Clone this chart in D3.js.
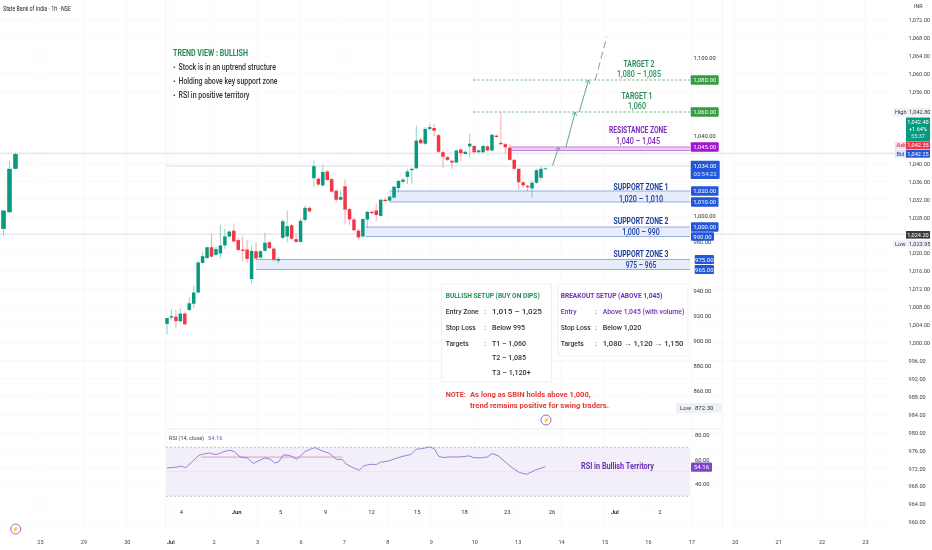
<!DOCTYPE html>
<html>
<head>
<meta charset="utf-8">
<script src="https://cdn.jsdelivr.net/npm/d3@7"></script>
<style>
	html, body { margin:0; padding:0; background:#ffffff; }
	svg { display:block; font-family:Roboto, sans-serif; filter:blur(0.3px); }
	.domain { display:none; }
</style>
</head>
<body>
<svg id="chart" width="932" height="550"></svg>
<script>

var candleOpen = [1004.2,1005.6,1005.8,1004.8,1006.5,1007.3,1008.7,1011.2,1017.8,1018.9,1021.3,1019.6,1019.9,1021.7,1023.7,1025.0,1022.9,1020.8,1020.8,1014.2,1020.4,1019.0,1020.5,1022.4,1021.0,1018.3,1023.4,1023.7,1026.2,1023.1,1022.5,1027.4,1030.1,1036.7,1036.6,1035.1,1038.2,1036.5,1033.9,1031.9,1034.9,1029.8,1027.5,1025.0,1023.7,1027.5,1029.2,1029.5,1028.3,1031.9,1031.7,1032.4,1034.5,1035.9,1037.0,1038.5,1038.9,1045.3,1044.4,1047.7,1047.9,1046.3,1042.5,1041.4,1040.6,1040.2,1043.1,1042.1,1043.8,1043.9,1042.5,1042.5,1043.8,1042.9,1046.2,1044.6,1044.3,1043.5,1040.8,1038.8,1035.8,1035.0,1034.4,1035.7,1036.8,1038.8];
var candleHigh = [1005.5,1007.5,1007.3,1007.7,1006.8,1010.1,1012.7,1018.3,1020.2,1021.4,1024.3,1021.4,1026.3,1025.4,1025.0,1026.6,1023.5,1023.7,1022.9,1021.7,1022.4,1020.7,1024.5,1022.6,1021.3,1019.2,1027.6,1029.5,1026.5,1024.3,1027.7,1030.6,1030.4,1040.8,1036.9,1039.7,1038.5,1036.8,1034.3,1033.9,1036.4,1030.2,1028.0,1025.4,1027.7,1029.5,1029.5,1031.0,1032.1,1032.4,1032.8,1035.0,1036.3,1036.6,1038.8,1039.1,1048.4,1045.8,1048.1,1048.9,1048.8,1046.6,1042.9,1041.7,1040.8,1043.0,1043.4,1042.9,1046.7,1044.0,1043.1,1044.2,1044.1,1046.6,1046.4,1051.3,1044.6,1044.3,1041.0,1038.9,1035.9,1035.2,1036.2,1038.8,1039.4,1039.1];
var candleLow = [1001.9,1005.1,1003.3,1004.5,1004.0,1007.1,1007.7,1011.0,1017.6,1018.7,1018.9,1019.4,1018.9,1020.9,1023.5,1022.4,1020.4,1018.1,1017.9,1013.2,1018.5,1018.7,1020.4,1020.9,1018.1,1017.7,1023.1,1022.4,1022.9,1022.4,1022.3,1026.8,1029.0,1034.8,1034.8,1034.8,1036.2,1033.5,1031.3,1031.7,1026.5,1026.3,1024.9,1023.1,1023.5,1025.7,1028.7,1027.2,1028.2,1031.4,1031.5,1032.1,1033.5,1035.5,1035.4,1035.4,1038.8,1044.3,1044.1,1047.3,1046.0,1042.3,1039.0,1040.5,1038.8,1040.1,1040.6,1042.0,1041.2,1042.3,1042.3,1042.3,1042.7,1042.7,1045.7,1044.1,1042.3,1040.6,1038.6,1034.1,1034.5,1033.8,1032.3,1035.4,1036.2,1038.6];
var candleClose = [1005.5,1005.9,1004.8,1006.5,1004.1,1008.8,1011.2,1017.9,1019.3,1021.3,1019.2,1020.9,1021.7,1023.7,1024.8,1022.6,1020.7,1020.5,1018.7,1020.5,1018.8,1020.4,1022.3,1021.1,1018.5,1018.7,1027.1,1026.0,1023.2,1022.5,1027.2,1030.1,1029.3,1039.4,1035.3,1038.1,1036.3,1033.7,1031.9,1032.5,1029.7,1027.5,1025.1,1023.5,1027.6,1029.2,1028.9,1028.5,1031.9,1031.6,1032.6,1034.8,1036.1,1036.4,1038.2,1038.8,1045.1,1044.5,1047.7,1048.1,1047.3,1042.6,1041.5,1040.8,1040.2,1042.9,1042.3,1042.6,1044.4,1042.5,1042.9,1043.9,1042.9,1046.4,1045.9,1044.3,1043.6,1040.8,1038.8,1035.8,1035.1,1034.7,1035.7,1038.5,1038.8,1038.9];

// three candles of the older chart, left edge
var olderOpen = [1025.4,1029.1,1038.8];
var olderHigh = [1029.5,1040.5,1042.4];
var olderLow = [1023.9,1029.0,1038.6];
var olderClose = [1029.5,1038.8,1042.1];

var rsiIndex = [0,2,3.2,4.2,5.6,7.2,8.4,9.6,10.6,11.6,12.8,14.2,15.2,16.4,18,19.4,20.4,22,23.2,24.2,25,26.2,27.6,29.2,31,33.2,34.8,36.4,38,39.4,40.2,41.6,43.2,44.2,45.6,47,48,49.6,51.6,53.4,54.8,56,57.6,58.8,60,61,62,63.6,66,67.8,68.8,70.4,72,73,74.4,76.4,77.6,79.2,80.8,82.8,85];
var rsiValue = [53.1,53.7,54.5,53.4,58.0,63.5,64.6,65.4,64.1,64.6,66.5,67.6,66.2,62.1,61.3,56.7,58.6,61.3,60.2,57.2,57.8,63.8,63.2,60.2,66.5,69.8,67.1,65.2,60.2,60.0,56.4,53.7,51.2,54.8,56.1,55.9,57.8,58.6,61.1,63.0,64.1,68.4,69.0,70.3,69.0,62.7,61.6,62.1,62.1,63.0,61.6,61.3,62.1,64.9,63.0,56.7,53.1,49.3,47.9,51.5,54.16];

var outerPriceTicks = [960,964,968,972,976,980,984,988,992,996,1000,1004,1008,1012,1016,1020,1028,1032,1036,1040,1056,1060,1064,1068,1072];
var innerPriceTicks = [860,880,900,920,940,980,1000,1040,1100];
var rsiTicks = [40,60,80];
var outerDates = ["25","29","30","Jul","2","3","6","7","8","9","10","13","14","15","16","17","20","21","22","23"];
var innerDateIndex = [3.1,15.5,25.4,35.5,45.8,56.1,66.7,76.3,86.4,100.5,110.6];
var innerDates = ["4","Jun","5","9","12","15","18","23","26","Jul","2"];

// the price levels drawn by the author do not sit on one straight scale
var levelPrices = [965,975,990,1000,1010,1020,1034,1040,1045,1060,1080];
var levelPixels = [269.5,259.5,236.5,227,202,191,165.7,150.5,147,112,80];
var innerPixels = [391,366,341,316,291,242,216,135.5,58];

var supportZones = [[1020,1010],[1000,990],[975,965]];
var supportStart = [50,44.6,20];
var supportTitle = ["SUPPORT ZONE 1","SUPPORT ZONE 2","SUPPORT ZONE 3"];
var supportRange = ["1,020 – 1,010","1,000 – 990","975 – 965"];

var arrowFrom = [[86.6,1034],[89.6,1045],[92.6,1060]];
var arrowTo = [[88,1045],[91.7,1060],[94.7,1080]];

var bullishRows = [["Entry Zone",":","1,015  –  1,025"],["Stop Loss",":","Below 995"],["Targets",":","T1 – 1,060"],["","","T2 – 1,085"],["","","T3 – 1,120+"]];
var breakoutRows = [["Entry",":","Above 1,045 (with volume)"],["Stop Loss",":","Below 1,020"],["Targets",":","1,080 → 1,120 → 1,150"]];


var GREEN = "#089981";
var RED = "#f23645";
var BLUE = "#2157d8";
var TEXT = "#333333";

var svg = d3.select("#chart");

var x = d3.scaleLinear().domain([0, 85]).range([167, 545.4]);
var olderX = d3.scaleLinear().domain([0, 2]).range([3.5, 15.5]);
var priceY = d3.scaleLinear().domain([960, 1072]).range([522, 20]);
var levelY = d3.scaleLinear().domain(levelPrices).range(levelPixels);
var innerY = d3.scaleLinear().domain(innerPriceTicks).range(innerPixels);
var rsiY = d3.scaleLinear().domain([40, 80]).range([484, 435]);
var datesX = d3.scalePoint().domain(outerDates).range([40, 865]);


function label(px, py, str, opts)
{
	opts = opts || {};
	var t = svg.append("text")
	.attr("x", px)
	.attr("y", py)
	.attr("dy", "0.35em")
	.attr("text-anchor", opts.anchor || "start")
	.attr("font-size", opts.size || 8)
	.attr("font-weight", opts.weight || 400)
	.attr("fill", opts.fill || TEXT)
	.text(str);

	// the reference font is a narrow one
	if (opts.width)
	{
		t.attr("textLength", opts.width).attr("lengthAdjust", "spacingAndGlyphs");
	}
	return t;
}


function hLine(y, x1, x2, color, width, dash)
{
	svg.append("line")
	.attr("x1", x1)
	.attr("x2", x2)
	.attr("y1", y)
	.attr("y2", y)
	.attr("stroke", color)
	.attr("stroke-width", width)
	.attr("stroke-dasharray", dash || null);
}


function priceBox(y, x1, x2, h, color, str)
{
	svg.append("rect")
	.attr("x", x1)
	.attr("y", y - h / 2)
	.attr("width", x2 - x1)
	.attr("height", h)
	.attr("rx", 1)
	.attr("fill", color);

	label((x1 + x2) / 2, y, str, {anchor:"middle", size:6, fill:"#ffffff"});
}


function drawCandles(cls, xs, op, hi, lo, cl, bodyWidth)
{
	var g = svg.append("g").attr("class", cls);
	var idx = d3.range(op.length);

	g.selectAll("line").data(idx).enter().append("line")
	.attr("x1", function(d){ return xs(d) })
	.attr("x2", function(d){ return xs(d) })
	.attr("y1", function(d){ return priceY(hi[d]) })
	.attr("y2", function(d){ return priceY(lo[d]) })
	.attr("stroke-width", 0.8)
	.attr("stroke-opacity", 0.55)
	.attr("stroke", function(d){ return cl[d] >= op[d] ? GREEN : RED });

	g.selectAll("rect").data(idx).enter().append("rect")
	.attr("x", function(d){ return xs(d) - bodyWidth / 2 })
	.attr("width", bodyWidth)
	.attr("y", function(d){ return priceY(Math.max(op[d], cl[d])) })
	.attr("height", function(d){ return Math.max(0.8, Math.abs(priceY(op[d]) - priceY(cl[d]))) })
	.attr("fill", function(d){ return cl[d] >= op[d] ? GREEN : RED });
}


function drawGrid()
{
	var g = svg.append("g").attr("class", "grid").attr("stroke", "#f8f9fb").attr("stroke-width", 1);

	g.selectAll(".gx").data(outerDates).enter().append("line")
	.attr("x1", function(d){ return datesX(d) })
	.attr("x2", function(d){ return datesX(d) })
	.attr("y1", 0)
	.attr("y2", 530);

	g.selectAll(".gy").data(outerPriceTicks).enter().append("line")
	.attr("x1", 0)
	.attr("x2", 890)
	.attr("y1", function(d){ return priceY(d) })
	.attr("y2", function(d){ return priceY(d) });

	g.append("line").attr("x1", 166).attr("x2", 166).attr("y1", 0).attr("y2", 530).attr("stroke", "#f2f3f6");
	g.append("line").attr("x1", 722).attr("x2", 722).attr("y1", 0).attr("y2", 530).attr("stroke", "#f2f3f6");
}


function drawLines()
{
	hLine(priceY(1042.25), 0, 905, "#eaeaec", 1.6);
	hLine(priceY(1024.2), 0, 905, "#e8e8ea", 1.6);
	hLine(levelY(1034), 166, 690, "#e6e8ef", 1.6);
}


function drawAxes()
{
	var outer = svg.append("g")
	.attr("transform", "translate(908.5,0)")
	.call(d3.axisRight(priceY).tickValues(outerPriceTicks).tickSize(0).tickPadding(0).tickFormat(d3.format(",.2f")));
	outer.selectAll("text").attr("font-size", 5.6).attr("font-family", "Roboto").attr("fill", "#444444");

	var inner = svg.append("g")
	.attr("transform", "translate(693.5,0)")
	.call(d3.axisRight(innerY).tickValues(innerPriceTicks).tickSize(0).tickPadding(0).tickFormat(d3.format(",.2f")));
	inner.selectAll("text").attr("font-size", 5.8).attr("font-family", "Roboto").attr("fill", "#333333");

	var rsi = svg.append("g")
	.attr("transform", "translate(695,0)")
	.call(d3.axisRight(rsiY).tickValues(rsiTicks).tickSize(0).tickPadding(0).tickFormat(d3.format(".2f")));
	rsi.selectAll("text").attr("font-size", 5.8).attr("font-family", "Roboto").attr("fill", "#333333");

	var dates = svg.append("g")
	.attr("transform", "translate(0,540)")
	.call(d3.axisBottom(datesX).tickSize(0).tickPadding(0));
	dates.selectAll("text").attr("font-size", 5.6).attr("font-family", "Roboto").attr("fill", "#444444")
	.attr("font-weight", function(d){ return d == "Jul" ? 700 : 400 });

	var innerAxis = svg.append("g")
	.attr("transform", "translate(0,510)")
	.call(d3.axisBottom(x).tickValues(innerDateIndex).tickSize(0).tickPadding(0)
		.tickFormat(function(d, i){ return innerDates[i] }));
	innerAxis.selectAll("text").attr("font-size", 5.8).attr("font-family", "Roboto").attr("fill", "#333333")
	.attr("font-weight", function(d, i){ return isNaN(+innerDates[i]) ? 700 : 400 });

	label(914, 6, "INR", {size:5.4, anchor:"start", fill:"#444444"});
}


function drawZones()
{
	var titleY = [187, 221, 254];
	var rangeY = [199, 232, 265];
	var i;
	for (i = 0; i < supportZones.length; i++)
	{
		var top = levelY(supportZones[i][0]);
		var bottom = levelY(supportZones[i][1]);
		var left = x(supportStart[i]);

		svg.append("rect")
		.attr("x", left)
		.attr("y", top)
		.attr("width", 690 - left)
		.attr("height", bottom - top)
		.attr("fill", "#e7edfb");

		hLine(top, left, 690, "#94ade6", 1);
		hLine(bottom, left, 690, "#94ade6", 1.2);

		label(641, titleY[i], supportTitle[i], {anchor:"middle", size:9, weight:700, fill:"#1c3c9c", width:55});
		label(641, rangeY[i], supportRange[i], {anchor:"middle", size:9, weight:500, fill:"#1c3c9c", width:supportRange[i].length * 3.4});
	}

	// resistance
	svg.append("rect")
	.attr("x", 510)
	.attr("y", levelY(1045))
	.attr("width", 180)
	.attr("height", levelY(1040) - levelY(1045))
	.attr("fill", "#ecd0f3");
	hLine(levelY(1045), 510, 690, "#c382dd", 1.2);
	hLine(levelY(1040), 510, 690, "#c382dd", 1);

	label(638, 130, "RESISTANCE ZONE", {anchor:"middle", size:9, weight:700, fill:"#7a2bb3", width:58});
	label(638, 141, "1,040 – 1,045", {anchor:"middle", size:9, weight:500, fill:"#7a2bb3", width:44});

	// targets
	hLine(levelY(1080), 473, 690, "#5aa574", 0.8, "2.5,1.8");
	hLine(levelY(1060), 473, 690, "#5aa574", 0.8, "2.5,1.8");

	label(639, 64, "TARGET 2", {anchor:"middle", size:9, weight:700, fill:"#2c8f5b", width:31});
	label(639, 74, "1,080 – 1,085", {anchor:"middle", size:9, weight:500, fill:"#2c8f5b", width:44});
	label(637, 96, "TARGET 1", {anchor:"middle", size:9, weight:700, fill:"#2c8f5b", width:31});
	label(637, 106, "1,060", {anchor:"middle", size:9, weight:500, fill:"#2c8f5b", width:18});
}


function arrowHead(tip, from, color)
{
	var angle = Math.atan2(tip[1] - from[1], tip[0] - from[0]);
	var len = 4.2;
	var spread = 0.6;
	var pts = [
		[tip[0] - len * Math.cos(angle - spread), tip[1] - len * Math.sin(angle - spread)],
		tip,
		[tip[0] - len * Math.cos(angle + spread), tip[1] - len * Math.sin(angle + spread)]
	];
	svg.append("path")
	.attr("d", d3.line()(pts))
	.attr("fill", "none")
	.attr("stroke", color)
	.attr("stroke-width", 0.9);
}


function drawArrows()
{
	var i;
	for (i = 0; i < arrowFrom.length; i++)
	{
		var a = [x(arrowFrom[i][0]), levelY(arrowFrom[i][1])];
		var b = [x(arrowTo[i][0]), levelY(arrowTo[i][1])];

		svg.append("line")
		.attr("x1", a[0]).attr("y1", a[1])
		.attr("x2", b[0]).attr("y2", b[1])
		.attr("stroke", "#5fa884")
		.attr("stroke-width", 1);
		arrowHead(b, a, "#5fa884");
	}

	// the last leg past target 2
	var s = [x(96.2), levelY(1080)];
	var e = [x(98.8), levelY(1107)];
	svg.append("line")
	.attr("x1", s[0]).attr("y1", s[1])
	.attr("x2", e[0]).attr("y2", e[1])
	.attr("stroke", "#8a9a90")
	.attr("stroke-width", 1)
	.attr("stroke-dasharray", "7,4");
}


function drawIcon(cx, cy)
{
	svg.append("circle")
	.attr("cx", cx).attr("cy", cy).attr("r", 5)
	.attr("fill", "#ffffff").attr("stroke", "#a65fd6").attr("stroke-width", 1);
	label(cx, cy, "⚡", {size:5.5, anchor:"middle", fill:"#8e4ec6"});
}


function drawBoxes()
{
	var frames = [[441.7, 284, 110, 98], [558, 284, 130, 72]];
	var bullishWidth = [50, 33, 34, 34, 38.7];
	var breakoutWidth = [81.7, 38.7, 80.7];
	var labelWidth = {"Entry Zone":33, "Stop Loss":30, "Targets":23, "Entry":16};

	svg.selectAll(".frame").data(frames).enter().append("rect")
	.attr("class", "frame")
	.attr("x", function(d){ return d[0] })
	.attr("y", function(d){ return d[1] })
	.attr("width", function(d){ return d[2] })
	.attr("height", function(d){ return d[3] })
	.attr("fill", "#ffffff")
	.attr("stroke", "#e8ebe9")
	.attr("stroke-width", 0.8);

	label(445.7, 294.7, "BULLISH SETUP (BUY ON DIPS)", {weight:700, fill:"#1f8f55", width:94});
	label(560.7, 294.7, "BREAKOUT SETUP (ABOVE 1,045)", {weight:700, fill:"#6a2fb5", width:101.7});

	var rowY = [311.3, 327, 342.7, 357.3, 372.3];

	bullishRows.forEach(function(row, i)
	{
		if (row[0])
		{
			label(445.7, rowY[i], row[0], {weight:500, width:labelWidth[row[0]]});
			label(484, rowY[i], row[1]);
		}
		label(492, rowY[i], row[2], {weight:500, width:bullishWidth[i]});
	});

	breakoutRows.forEach(function(row, i)
	{
		var c = i == 0 ? "#6a2fb5" : "#333333";
		label(560.7, rowY[i], row[0], {weight:500, fill:c, width:labelWidth[row[0]]});
		label(595, rowY[i], row[1]);
		label(602.7, rowY[i], row[2], {weight:500, fill:c, width:breakoutWidth[i]});
	});

	label(445.7, 393.7, "NOTE:", {weight:700, fill:"#e53935", width:20});
	label(470, 393.7, "As long as SBIN holds above 1,000,", {weight:700, fill:"#e53935", width:120.7});
	label(470, 405, "trend remains positive for swing traders.", {weight:700, fill:"#e53935", width:139});

	drawIcon(546, 420);
}


function drawTrendView()
{
	label(3, 8.5, "State Bank of India · 1h · NSE", {size:6.5, fill:"#222222", width:68});
	label(173, 52.5, "TREND VIEW : BULLISH", {size:9.5, weight:700, fill:"#1f8f55", width:75});
	label(173, 67, "•", {size:8});
	label(178.5, 67, "Stock is in an uptrend structure", {size:9.5, weight:500, width:97.5});
	label(173, 81, "•", {size:8});
	label(178.5, 81, "Holding above key support zone", {size:9.5, weight:500, width:99});
	label(173, 95, "•", {size:8});
	label(178.5, 95, "RSI in positive territory", {size:9.5, weight:500, width:71});
}


function drawRsi()
{
	svg.append("rect")
	.attr("x", 166)
	.attr("y", rsiY(70))
	.attr("width", 524)
	.attr("height", rsiY(30) - rsiY(70))
	.attr("fill", "#f3eff9");

	hLine(429, 166, 722, "#ececef", 1);
	hLine(rsiY(70), 166, 690, "#aaaaaa", 0.7, "2,2");
	hLine(rsiY(30), 166, 690, "#aaaaaa", 0.7, "2,2");
	hLine(rsiY(50), 166, 690, "#e3dff0", 0.7);

	// smoothing line of the RSI
	hLine(rsiY(62), x(7.6), x(39.4), "#e58fb4", 0.9);

	var line = d3.line()
	.x(function(d){ return x(rsiIndex[d]) })
	.y(function(d){ return rsiY(rsiValue[d]) });

	svg.append("path")
	.attr("d", line(d3.range(rsiIndex.length)))
	.attr("fill", "none")
	.attr("stroke", "#8a77cf")
	.attr("stroke-width", 0.9);

	label(169, 438, "RSI (14, close)", {size:6, fill:"#444444", width:35});
	label(208, 438, "54.16", {size:6, fill:"#7e57c2", width:14.5});
	label(581, 465.5, "RSI in Bullish Territory", {size:9.5, weight:700, fill:"#6a2fb5", width:73});
}


function drawPriceBoxes()
{
	priceBox(levelY(1080), 690.7, 718.7, 9.4, "#3a9a42", "1,080.00");
	priceBox(levelY(1060), 690.7, 718.7, 9.4, "#3a9a42", "1,060.00");
	priceBox(levelY(1045), 690.7, 718.7, 9.4, "#a414d5", "1,045.00");

	svg.append("rect").attr("x", 690.7).attr("y", 160.7).attr("width", 29).attr("height", 18.3).attr("rx", 1).attr("fill", BLUE);
	label(705, 165.7, "1,034.00", {anchor:"middle", size:6, fill:"#ffffff"});
	label(705, 174.3, "03:54:22", {anchor:"middle", size:6, fill:"#dfe7fb"});

	priceBox(levelY(1020), 691, 718.5, 9.4, BLUE, "1,020.00");
	priceBox(levelY(1010), 691, 718.5, 9.4, BLUE, "1,010.00");
	priceBox(levelY(1000), 691, 718.5, 9.4, BLUE, "1,000.00");
	priceBox(levelY(990), 691, 714, 8.6, BLUE, "990.00");
	priceBox(levelY(975), 694.7, 714, 9.2, BLUE, "975.00");
	priceBox(levelY(965), 694.7, 714, 9.2, BLUE, "965.00");
	priceBox(rsiY(53.8), 691, 712, 9.4, "#7e45c8", "54.16");

	// low marker of the chart
	svg.append("rect").attr("x", 676).attr("y", 403).attr("width", 46).attr("height", 10).attr("fill", "#eef2f8");
	label(680, 408, "Low", {size:6});
	label(695, 408, "872.30", {size:6});

	// right hand scale flags
	svg.append("rect").attr("x", 893).attr("y", 108).attr("width", 37).attr("height", 8.5).attr("fill", "#eef2f8");
	label(895, 112.2, "High", {size:5.6});
	label(909, 112.2, "1,042.80", {size:5.6});

	svg.append("rect").attr("x", 906).attr("y", 117.5).attr("width", 24).attr("height", 24).attr("fill", GREEN);
	label(918, 121.7, "1,042.40", {anchor:"middle", size:5.6, fill:"#ffffff"});
	label(918, 129, "+1.64%", {anchor:"middle", size:5.6, fill:"#ffffff"});
	label(918, 136, "55:37", {anchor:"middle", size:5.6, fill:"#d6efe9"});

	svg.append("rect").attr("x", 895).attr("y", 141.7).attr("width", 11).attr("height", 7.7).attr("fill", "#fbdde0");
	svg.append("rect").attr("x", 906).attr("y", 141.7).attr("width", 24).attr("height", 7.7).attr("fill", RED);
	label(896.5, 145.5, "Ask", {size:5.6, fill:"#c2185b"});
	label(918, 145.5, "1,042.35", {anchor:"middle", size:5.6, fill:"#ffffff"});

	svg.append("rect").attr("x", 895).attr("y", 150).attr("width", 11).attr("height", 7.7).attr("fill", "#dbe5fb");
	svg.append("rect").attr("x", 906).attr("y", 150).attr("width", 24).attr("height", 7.7).attr("fill", BLUE);
	label(896.5, 153.8, "Bid", {size:5.6, fill:"#1c3c9c"});
	label(918, 153.8, "1,042.25", {anchor:"middle", size:5.6, fill:"#ffffff"});

	svg.append("rect").attr("x", 906).attr("y", 231).attr("width", 24).attr("height", 7.6).attr("fill", "#3a3a3a");
	label(918, 234.8, "1,024.20", {anchor:"middle", size:5.6, fill:"#ffffff"});

	svg.append("rect").attr("x", 893).attr("y", 240).attr("width", 37).attr("height", 7.5).attr("fill", "#eef2f8");
	label(895, 243.8, "Low", {size:5.6});
	label(909, 243.8, "1,023.95", {size:5.6});

	drawIcon(15.7, 529);
}


drawGrid();
drawLines();
drawRsi();
drawZones();
drawCandles("older", olderX, olderOpen, olderHigh, olderLow, olderClose, 4.6);
drawCandles("main", x, candleOpen, candleHigh, candleLow, candleClose, 3.5);
drawArrows();
drawBoxes();
drawAxes();
drawPriceBoxes();
drawTrendView();

</script>
</body>
</html>
